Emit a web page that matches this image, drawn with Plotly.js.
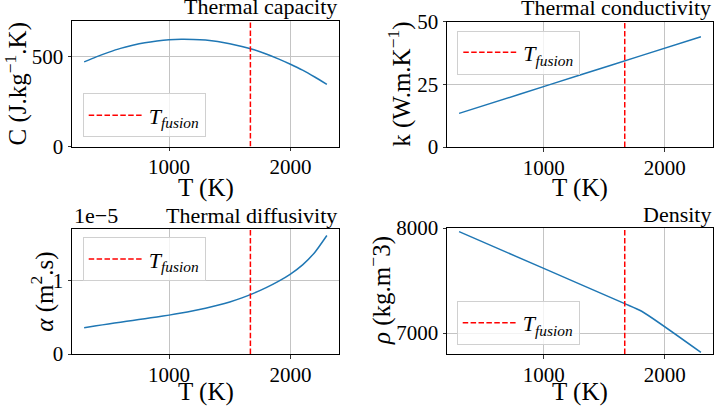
<!DOCTYPE html>
<html>
<head>
<meta charset="utf-8">
<script src="https://cdn.plot.ly/plotly-3.0.1.min.js"></script>
<style>html,body{margin:0;padding:0;background:#fff;}#chart{width:714px;height:407px;}</style>
</head>
<body>
<div id="chart"></div>
<script>
// ---- data ----
const T_FUSION = 1670;
const T_C = [300,400,500,600,700,800,900,1000,1100,1200,1300,1400,1500,1600,1700,1800,1900,2000,2100,2200,2300];
const C_VALUES = [470,498,523,545,562,576,586,593,596,595,591,583,571,556,537,514,487,457,424,386,345];
const T_K = [300,800,1300,1800,2300];
const K_VALUES = [13.4,21.0,28.7,36.3,43.9];
const T_ALPHA = [300,400,500,600,700,800,900,1000,1100,1200,1300,1400,1500,1600,1700,1800,1900,2000,2100,2200,2300];
const ALPHA_VALUES = [3.58e-6,3.84e-6,4.10e-6,4.33e-6,4.57e-6,4.82e-6,5.05e-6,5.30e-6,5.58e-6,5.90e-6,6.25e-6,6.65e-6,7.10e-6,7.65e-6,8.30e-6,9.05e-6,9.90e-6,1.09e-5,1.215e-5,1.385e-5,1.616e-5];
const ALPHA_SCALE = 1e-5;
const T_RHO = [300,1000,1670,1810,2300];
const RHO_VALUES = [7965,7615,7280,7207,6815];

const TITLES = ["Thermal capacity","Thermal conductivity","Thermal diffusivity","Density"];
const YLABELS = ["C (J.kg<sup>−1</sup>.K)","k (W.m.K<sup>−1</sup>)","<i>α</i> (m<sup>2</sup>.s)","<i>ρ</i> (kg.m<sup>−</sup>3)"];
const XLABEL = "T (K)";
const LEGEND_NAME = "<i>T</i><sub><i>fusion</i></sub>";

// ---- style / layout geometry ----
const FONT = "Liberation Serif, Times New Roman, serif";
const BLUE = "#1f77b4";
const W = 714, H = 407;
const xDom = [[72/W, 339/W], [447/W, 713/W], [72/W, 339/W], [447/W, 713/W]];
const yDom = [[1-146.5/H, 1-20.5/H], [1-147/H, 1-21.5/H], [1-354/H, 1-229.3/H], [1-354/H, 1-228/H]];
const yRanges = [[0,700],[0,50],[0,1.70],[6800,8000]];
const yDticks = [500,25,1,1000];
const yTitleX = [16, 399.5, 43, 379];
const xTitleShift = [-41, -40.5, -38, -38];

const series = [
  {x:T_C, y:C_VALUES},
  {x:T_K, y:K_VALUES},
  {x:T_ALPHA, y:ALPHA_VALUES.map(v=>v/ALPHA_SCALE)},
  {x:T_RHO, y:RHO_VALUES}
];
const legendPos = [
  [82.7/W, 1-115.4/H],
  [457.3/W, 1-52.5/H],
  [82.7/W, 1-259.2/H],
  [456.7/W, 1-323/H]
];

const traces = [];
const layout = {
  width: W, height: H,
  margin: {l:0, r:0, t:0, b:0},
  paper_bgcolor: "#fff", plot_bgcolor: "#fff",
  font: {family: FONT, size: 21, color: "#000"},
  showlegend: true,
  annotations: []
};

for (let i = 0; i < 4; i++) {
  const n = i === 0 ? "" : String(i+1);
  const xa = "x" + n, ya = "y" + n;
  const legendId = i === 0 ? "legend" : "legend" + (i+1);
  traces.push({
    type: "scatter", mode: "lines", x: series[i].x, y: series[i].y,
    xaxis: xa, yaxis: ya, line: {color: BLUE, width: 1.5, shape: "spline", smoothing: 0.6}, showlegend: false, hoverinfo: "skip"
  });
  traces.push({
    type: "scatter", mode: "lines", x: [T_FUSION, T_FUSION], y: yRanges[i],
    xaxis: xa, yaxis: ya, name: LEGEND_NAME, legend: legendId,
    line: {color: "red", width: 1.5, dash: "5.5px,2.4px"}, showlegend: true, hoverinfo: "skip"
  });
  const common = {
    showline: true, linecolor: "#000", linewidth: 1, mirror: true,
    ticks: "outside", ticklen: 3.5, tickwidth: 0.8, tickcolor: "#000",
    showgrid: true, gridcolor: "#c4c4c4", gridwidth: 1, zeroline: false,
    tickfont: {family: FONT, size: 21, color: "#000"}
  };
  layout["xaxis" + n] = Object.assign({}, common, {
    domain: xDom[i], anchor: ya, range: [200, 2400], tick0: 0, dtick: 1000,
    ticklabelstandoff: -2
  });
  layout["yaxis" + n] = Object.assign({}, common, {
    domain: yDom[i], anchor: xa, range: yRanges[i], tick0: 0, dtick: yDticks[i]
  });
  layout[legendId] = {
    x: legendPos[i][0], y: legendPos[i][1], xanchor: "left", yanchor: "middle",
    bgcolor: "rgba(255,255,255,0.8)", bordercolor: "#d0d0d0", borderwidth: 1,
    itemwidth: 55,
    font: {family: FONT, size: 22, color: "#000"}
  };
  // subplot title
  layout.annotations.push({
    text: TITLES[i], xref: xa + " domain", yref: ya + " domain", x: 1, y: 1,
    xanchor: "right", yanchor: "bottom", showarrow: false, yshift: -1,
    font: {family: FONT, size: 22, color: "#000"}
  });
  // x axis title
  layout.annotations.push({
    text: XLABEL, xref: xa + " domain", yref: ya + " domain", x: 0.5, y: 0,
    xanchor: "center", yanchor: "middle", showarrow: false, yshift: xTitleShift[i],
    font: {family: FONT, size: 25, color: "#000"}
  });
  // y axis title
  layout.annotations.push({
    text: YLABELS[i], xref: "paper", yref: ya + " domain", x: yTitleX[i]/W, y: 0.5,
    xanchor: "center", yanchor: "middle", showarrow: false, textangle: -90,
    font: {family: FONT, size: 25, color: "#000"}
  });
}
layout.annotations.push({
  text: "1e−5", xref: "x3 domain", yref: "y3 domain", x: 0, y: 1,
  xanchor: "left", yanchor: "bottom", showarrow: false, yshift: -1,
  font: {family: FONT, size: 22, color: "#000"}
});

Plotly.newPlot("chart", traces, layout, {displayModeBar: false, staticPlot: true});
</script>
</body>
</html>
